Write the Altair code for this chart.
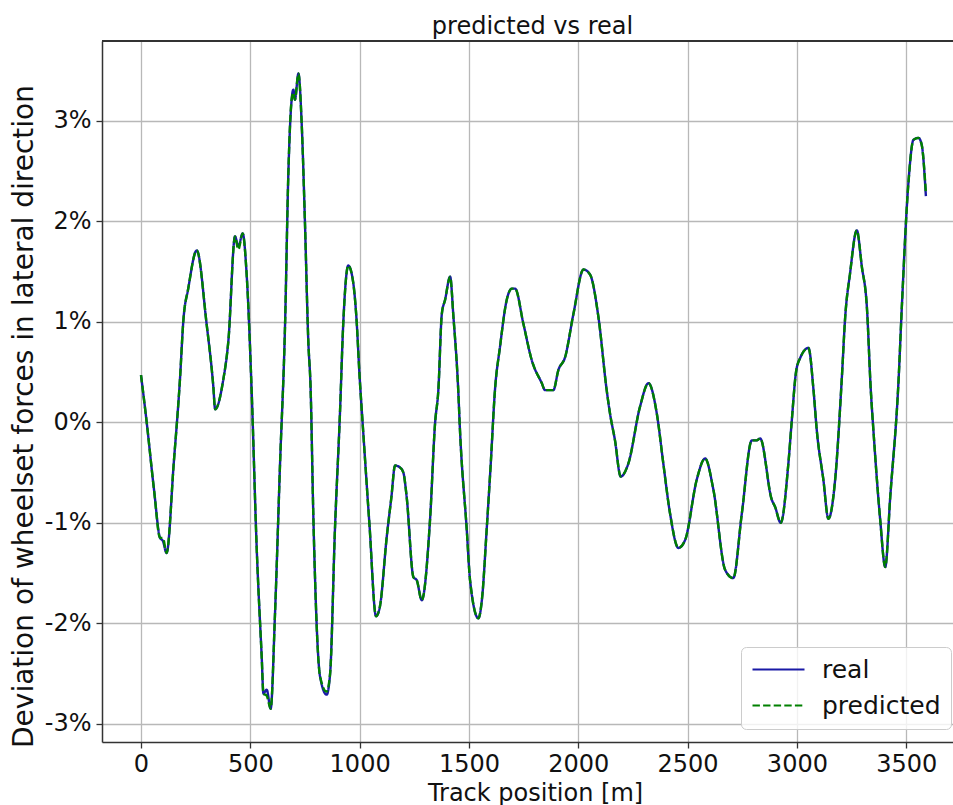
import altair as alt
import pandas as pd

# Track position in metres
position = [
    0, 25, 60, 87, 100, 117, 150, 178, 194, 216, 255, 300, 331, 339, 376, 400,
    430, 445, 465, 483, 506, 529, 552, 560, 575, 593, 613, 636, 659, 674, 689,
    697, 704, 720, 735, 750, 765, 776, 788, 819, 849, 865, 887, 910, 925, 948,
    970, 985, 1000, 1015, 1045, 1075, 1093, 1124, 1145, 1162, 1185, 1200, 1215,
    1246, 1261, 1284, 1322, 1345, 1360, 1376, 1391, 1414, 1429, 1451, 1459,
    1490, 1505, 1543, 1560, 1581, 1600, 1619, 1642, 1673, 1696, 1711, 1749,
    1787, 1833, 1848, 1886, 1909, 1940, 1978, 2024, 2054, 2092, 2130, 2145,
    2168, 2194, 2229, 2283, 2321, 2359, 2389, 2420, 2458, 2489, 2542, 2580,
    2618, 2672, 2709, 2748, 2794, 2816, 2832, 2885, 2900, 2926, 2961, 2976,
    2996, 3015, 3053, 3076, 3091, 3121, 3144, 3175, 3205, 3221, 3243, 3274,
    3297, 3320, 3338, 3350, 3381, 3404, 3427, 3465, 3480, 3510, 3533, 3556,
    3571, 3590,
]

# Measured deviation of lateral wheelset forces, in percent
real = [
    0.47, 0.02, -0.68, -1.15, -1.18, -1.30, -0.40, 0.42, 1.02, 1.33, 1.71, 0.98,
    0.35, 0.13, 0.42, 0.82, 1.85, 1.75, 1.88, 1.48, 0.32, -1.24, -2.33, -2.70,
    -2.66, -2.85, -1.90, -0.41, 0.98, 2.48, 3.21, 3.31, 3.21, 3.47, 2.97, 1.98,
    0.82, 0.32, -0.91, -2.53, -2.71, -2.50, -1.07, 0.09, 0.98, 1.56, 1.40, 1.05,
    0.45, -0.05, -1.02, -1.93, -1.83, -1.14, -0.75, -0.43, -0.45, -0.50, -0.74,
    -1.54, -1.57, -1.77, -0.97, -0.01, 0.32, 1.08, 1.22, 1.45, 1.05, 0.32,
    -0.08, -1.07, -1.57, -1.95, -1.75, -1.07, -0.40, 0.32, 0.75, 1.22, 1.33,
    1.33, 0.98, 0.62, 0.39, 0.32, 0.32, 0.52, 0.65, 1.08, 1.52, 1.47, 1.05,
    0.32, 0.09, -0.18, -0.54, -0.41, 0.16, 0.39, 0.09, -0.41, -0.91, -1.25,
    -1.17, -0.57, -0.36, -0.67, -1.47, -1.55, -0.91, -0.18, -0.18, -0.16,
    -0.77, -0.84, -1.00, -0.41, 0.00, 0.50, 0.64, 0.74, 0.32, -0.08, -0.57,
    -0.96, -0.57, 0.42, 1.05, 1.48, 1.91, 1.55, 1.15, 0.32, -0.08, -0.97,
    -1.44, -0.74, 0.42, 1.15, 2.38, 2.81, 2.83, 2.76, 2.25,
]

# Model prediction of the same quantity, in percent
predicted = [
    0.47, 0.02, -0.68, -1.15, -1.15, -1.30, -0.40, 0.42, 1.02, 1.33, 1.71, 0.98,
    0.35, 0.13, 0.42, 0.82, 1.85, 1.72, 1.88, 1.48, 0.32, -1.24, -2.33, -2.70,
    -2.72, -2.85, -1.90, -0.41, 0.98, 2.48, 3.21, 3.28, 3.21, 3.47, 2.97, 1.98,
    0.82, 0.32, -0.91, -2.53, -2.68, -2.50, -1.07, 0.09, 0.98, 1.56, 1.40, 1.05,
    0.45, -0.05, -1.02, -1.93, -1.83, -1.14, -0.75, -0.43, -0.45, -0.50, -0.74,
    -1.54, -1.57, -1.77, -0.97, -0.01, 0.32, 1.08, 1.22, 1.45, 1.05, 0.32,
    -0.08, -1.07, -1.57, -1.95, -1.75, -1.07, -0.40, 0.32, 0.75, 1.22, 1.33,
    1.33, 0.98, 0.62, 0.39, 0.32, 0.32, 0.52, 0.65, 1.08, 1.52, 1.47, 1.05,
    0.32, 0.09, -0.18, -0.54, -0.41, 0.16, 0.39, 0.09, -0.41, -0.91, -1.25,
    -1.17, -0.57, -0.36, -0.67, -1.47, -1.55, -0.91, -0.18, -0.18, -0.16,
    -0.77, -0.84, -1.00, -0.41, 0.00, 0.50, 0.64, 0.74, 0.32, -0.08, -0.57,
    -0.96, -0.57, 0.42, 1.05, 1.48, 1.91, 1.55, 1.15, 0.32, -0.08, -0.97,
    -1.44, -0.74, 0.42, 1.15, 2.38, 2.81, 2.83, 2.76, 2.28,
]

x_ticks = [0, 500, 1000, 1500, 2000, 2500, 3000, 3500]
y_ticks = [-3, -2, -1, 0, 1, 2, 3]
series_names = ["real", "predicted"]

FONT = "DejaVu Sans"
W, H = 851, 701

df = pd.concat([
    pd.DataFrame({"pos": position, "value": real, "series": "real"}),
    pd.DataFrame({"pos": position, "value": predicted, "series": "predicted"}),
])

# legend swatch: a short horizontal stroke starting at the entry's left edge
legend = alt.Legend(
    title=None, orient="none", legendX=639, legendY=606,
    symbolType="M-1.1,0H4.1", symbolSize=400, symbolStrokeWidth=2,
    labelFont=FONT, labelFontSize=25, labelColor="#111111", labelOffset=46,
    padding=10, rowPadding=10, fillColor="rgba(255,255,255,0.8)",
    strokeColor="#cccccc", cornerRadius=5,
)

x_enc = alt.X(
    "pos:Q",
    scale=alt.Scale(domain=[-178.4, 3714], nice=False, zero=False),
    axis=alt.Axis(
        values=x_ticks, format="d", title="Track position [m]", grid=True,
        titleX=433, titleY=58, titleBaseline="alphabetic",
        labelPadding=4, labelBaseline="top",
    ),
)
y_enc = alt.Y(
    "value:Q",
    scale=alt.Scale(domain=[-3.181, 3.794], nice=False, zero=False),
    axis=alt.Axis(
        values=y_ticks, labelExpr="datum.value + '%'",
        title="Deviation of wheelset forces in lateral direction",
        titleFontSize=28, titleX=-70, titleY=375, titleAngle=270,
        titleBaseline="alphabetic", titleAlign="center", labelPadding=5,
    ),
)
color_enc = alt.Color(
    "series:N",
    scale=alt.Scale(domain=series_names, range=["#1a1aa6", "#008000"]),
    legend=legend,
)
dash_enc = alt.StrokeDash(
    "series:N",
    scale=alt.Scale(domain=series_names, range=[[1, 0], [7.4, 3.2]]),
    legend=legend,
)

base = alt.Chart(df)

real_line = base.transform_filter(alt.datum.series == "real").mark_line(
    strokeWidth=2.4, clip=True, interpolate="monotone"
).encode(x=x_enc, y=y_enc, color=color_enc, strokeDash=dash_enc, order="pos:Q")

pred_line = base.transform_filter(alt.datum.series == "predicted").mark_line(
    strokeWidth=2.4, clip=True, interpolate="monotone"
).encode(x=x_enc, y=y_enc, color=color_enc, strokeDash=dash_enc, order="pos:Q")

# upper frame edge of the plot area
top_edge = alt.Chart(df).mark_rule(color="#333333", strokeWidth=1.5).encode(
    x=alt.value(0), x2=alt.value(W), y=alt.value(0)
)

chart = alt.layer(real_line, pred_line, top_edge).properties(
    width=W, height=H,
    title=alt.TitleParams(
        "predicted vs real", font=FONT, fontSize=24, fontWeight="normal",
        color="#111111", anchor="middle", baseline="alphabetic", offset=-18, dx=5,
    ),
    padding={"left": 102, "top": 41, "right": 0, "bottom": 63},
    autosize=alt.AutoSizeParams(type="none"),
).configure_view(stroke=None).configure_axis(
    labelFont=FONT, labelFontSize=24, labelColor="#111111",
    titleFont=FONT, titleFontSize=24, titleColor="#111111", titleFontWeight="normal",
    domainColor="#333333", domainWidth=1.5, tickColor="#333333", tickSize=6,
    tickWidth=1.3, gridColor="#b8b8b8", gridWidth=1.3,
)

chart.save("out.html", embed_options={"renderer": "svg", "actions": False})
